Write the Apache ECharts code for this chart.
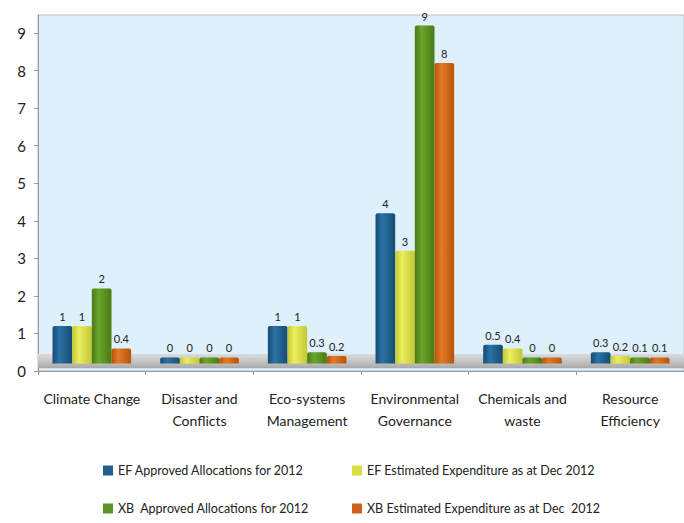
<!DOCTYPE html>
<html>
<head>
<meta charset="utf-8">
<style>
  html, body { margin: 0; padding: 0; background: #ffffff; }
  #chart { width: 684px; height: 523px; }
</style>
<script src="https://cdn.jsdelivr.net/npm/echarts@6/dist/echarts.min.js"></script>
</head>
<body>
<div id="chart"></div>
<script>
// Programme areas on the category axis
const categories = [
  'Climate Change',
  'Disaster and\nConflicts',
  'Eco-systems\nManagement',
  'Environmental\nGovernance',
  'Chemicals and\nwaste',
  'Resource\nEfficiency'
];

// Series names
const efApprovedName = 'EF Approved Allocations for 2012';
const efEstimatedName = 'EF Estimated Expenditure as at Dec 2012';
const xbApprovedName = 'XB  Approved Allocations for 2012';
const xbEstimatedName = 'XB Estimated Expenditure as at Dec  2012';

// Values per programme area
const efApproved = [1, 0, 1, 4, 0.5, 0.3];
const efEstimated = [1, 0, 1, 3, 0.4, 0.2];
const xbApproved = [2, 0, 0.3, 9, 0, 0.1];
const xbEstimated = [0.4, 0, 0.2, 8, 0, 0.1];

// Value axis tick labels
const yTicks = [0, 1, 2, 3, 4, 5, 6, 7, 8, 9];

const FONT = 'Lato';

// Cylinder-like shading across each bar
function shade(edge, mid) {
  return new echarts.graphic.LinearGradient(0, 0, 1, 0, [
    { offset: 0, color: edge },
    { offset: 0.35, color: mid },
    { offset: 1, color: edge }
  ]);
}

const palette = [
  { legend: '#1f5f8c', fill: shade('#174c72', '#2a72a6') },
  { legend: '#d5df3f', fill: shade('#c4c733', '#eaef60') },
  { legend: '#5b9527', fill: shade('#497a14', '#6aa52c') },
  { legend: '#cc6418', fill: shade('#b5540c', '#e27a26') }
];

function barSeries(name, data, idx) {
  return {
    name: name,
    type: 'bar',
    yAxisIndex: 1,
    data: data,
    z: 3,
    barGap: '0%',
    barCategoryGap: '27%',
    barMinHeight: 6,
    itemStyle: { color: palette[idx].fill, borderRadius: [2, 2, 0, 0] },
    label: {
      show: true,
      position: 'top',
      distance: 4,
      formatter: '{c}',
      fontFamily: FONT,
      fontSize: 11,
      color: '#222222'
    },
    emphasis: { disabled: true }
  };
}

function legendAt(name, color, left, top) {
  return {
    data: [{ name: name, itemStyle: { color: color } }],
    left: left,
    top: top,
    orient: 'horizontal',
    icon: 'rect',
    itemWidth: 10,
    itemHeight: 10,
    selectedMode: false,
    textStyle: { fontFamily: FONT, fontSize: 12.5, color: '#222222' }
  };
}

const chart = echarts.init(document.getElementById('chart'), null, { renderer: 'svg' });

chart.setOption({
  animation: false,
  backgroundColor: '#ffffff',
  color: palette.map(p => p.legend),
  grid: {
    left: 38,
    right: -15,
    top: 15,
    bottom: 152,
    show: true,
    backgroundColor: '#ddf0fb',
    borderColor: '#bdbdbd',
    borderWidth: 1
  },
  legend: [
    legendAt(efApprovedName, palette[0].legend, 98, 459),
    legendAt(efEstimatedName, palette[1].legend, 347, 459),
    legendAt(xbApprovedName, palette[2].legend, 98, 497),
    legendAt(xbEstimatedName, palette[3].legend, 347, 497)
  ],
  xAxis: {
    type: 'category',
    data: categories,
    boundaryGap: true,
    axisLine: { show: true, lineStyle: { color: '#9a9a9a', width: 1 } },
    axisTick: { show: true, length: 4, lineStyle: { color: '#9a9a9a' } },
    axisLabel: {
      interval: 0,
      margin: 16,
      fontFamily: FONT,
      fontSize: 14,
      lineHeight: 22,
      color: '#222222'
    },
    splitLine: { show: false }
  },
  yAxis: [
    {
      // visible scale drawn along the front edge of the floor
      type: 'value',
      min: 0,
      max: 9.48,
      axisLine: { show: true, lineStyle: { color: '#9a9a9a' } },
      axisTick: { show: true, length: 4, customValues: yTicks, lineStyle: { color: '#9a9a9a' } },
      axisLabel: {
        customValues: yTicks,
        margin: 12,
        fontFamily: FONT,
        fontSize: 15,
        color: '#222222'
      },
      splitLine: { show: false }
    },
    {
      // scale for the bars, which stand on the raised floor
      type: 'value',
      min: -0.2,
      max: 9.28,
      show: false,
      splitLine: { show: false }
    }
  ],
  series: [
    {
      // the chart floor
      type: 'line',
      yAxisIndex: 0,
      data: [],
      z: 1,
      silent: true,
      markArea: {
        silent: true,
        itemStyle: {
          color: new echarts.graphic.LinearGradient(0, 0, 0, 1, [
            { offset: 0, color: '#dcdcdc' },
            { offset: 0.5, color: '#c4c4c4' },
            { offset: 1, color: '#a8a8a8' }
          ])
        },
        data: [[{ yAxis: 0.07 }, { yAxis: 0.45 }]]
      }
    },
    barSeries(efApprovedName, efApproved, 0),
    barSeries(efEstimatedName, efEstimated, 1),
    barSeries(xbApprovedName, xbApproved, 2),
    barSeries(xbEstimatedName, xbEstimated, 3)
  ]
});
</script>
</body>
</html>
